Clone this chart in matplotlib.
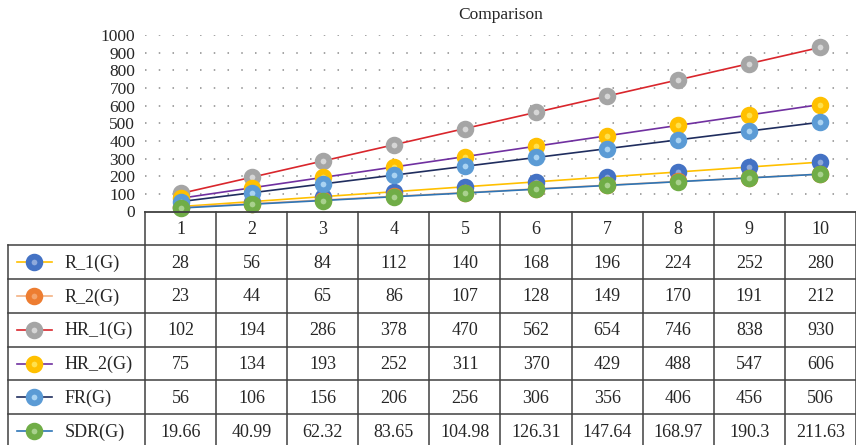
import matplotlib
matplotlib.use("Agg")
import matplotlib.pyplot as plt

plt.rcParams['font.family'] = ['Liberation Serif', 'DejaVu Serif']

# ---- data ----
categories = [1, 2, 3, 4, 5, 6, 7, 8, 9, 10]
series_names = ["R_1(G)", "R_2(G)", "HR_1(G)", "HR_2(G)", "FR(G)", "SDR(G)"]
r1 = [28, 56, 84, 112, 140, 168, 196, 224, 252, 280]
r2 = [23, 44, 65, 86, 107, 128, 149, 170, 191, 212]
hr1 = [102, 194, 286, 378, 470, 562, 654, 746, 838, 930]
hr2 = [75, 134, 193, 252, 311, 370, 429, 488, 547, 606]
fr = [56, 106, 156, 206, 256, 306, 356, 406, 456, 506]
sdr = [19.66, 40.99, 62.32, 83.65, 104.98, 126.31, 147.64, 168.97, 190.3, 211.63]
series_values = [r1, r2, hr1, hr2, fr, sdr]
y_ticks = [0, 100, 200, 300, 400, 500, 600, 700, 800, 900, 1000]

# line colour, marker ring colour, marker centre colour
styles = [
    ("#FFC000", "#4472C4", "#8EA9DB"),
    ("#F4B183", "#ED7D31", "#F4A46B"),
    ("#D9262C", "#A5A5A5", "#D6D6D6"),
    ("#7030A0", "#FFC000", "#FFE14D"),
    ("#1F2D5E", "#5B9BD5", "#A9D3F2"),
    ("#2E75B6", "#70AD47", "#A9D18E"),
]

W, H = 856, 445
fig = plt.figure(figsize=(W / 100, H / 100), dpi=100)

# plot area geometry in pixels
x0, x1 = 145, 856
y_zero, y_top = 211.5, 35
ax = fig.add_axes([x0 / W, (H - y_zero) / H, (x1 - x0) / W, (y_zero - y_top) / H])
ax.set_xlim(0.5, 10.5)
ax.set_ylim(0, 1000)
for s in ax.spines.values():
    s.set_visible(False)
ax.set_xticks([])
ax.set_yticks(y_ticks)
ax.set_yticklabels([str(t) for t in y_ticks], fontsize=12.5, color="#262626")
ax.tick_params(axis="y", length=0, pad=7)
for t in y_ticks[1:]:
    ax.axhline(t, color="#8C8C8C", lw=1.1, linestyle=(0, (1, 8)), zorder=0)

ms, mew = 8.4, 4.2
for i, (vals, (lc, mc, fc)) in enumerate(zip(series_values, styles)):
    ax.plot(categories, vals, color=lc, lw=1.2, zorder=2 + 2 * i,
            solid_capstyle="butt")
    ax.plot(categories, vals, linestyle="none", marker="o", markersize=ms,
            markeredgewidth=mew, markeredgecolor=mc, markerfacecolor=fc,
            zorder=3 + 2 * i, clip_on=False)

fig.text(500.5 / W, 1 - 15 / H, "Comparison", ha="center", va="center",
         fontsize=12.5, color="#262626")

# ---- data table drawn in pixel coordinates ----
tab = fig.add_axes([0, 0, 1, 1])
tab.set_xlim(0, W)
tab.set_ylim(H, 0)
tab.axis("off")

grid_col = "#404040"
col_w = (x1 - x0) / len(categories)
row_top = 212
row_h = 33.8
header_bottom = 245.2
legend_left = 8
table_bottom = header_bottom + row_h * len(series_names)

# axis line / header top
tab.plot([x0, x1], [row_top, row_top], color=grid_col, lw=1.3)
# horizontal rules
for r in range(len(series_names) + 1):
    y = header_bottom + r * row_h
    tab.plot([legend_left, x1], [y, y], color=grid_col, lw=1.1)
# vertical rules
for k in range(len(categories) + 1):
    x = x0 + k * col_w
    tab.plot([x, x], [row_top, table_bottom], color=grid_col, lw=1.1)
tab.plot([legend_left, legend_left], [header_bottom, table_bottom], color=grid_col, lw=1.1)

fs = 13
# header
for k, c in enumerate(categories):
    tab.text(x0 + (k + 0.5) * col_w, (row_top + header_bottom) / 2 + 1, str(c),
             ha="center", va="center", fontsize=fs, color="#262626")

# rows
for r, (name, vals, (lc, mc, fc)) in enumerate(zip(series_names, series_values, styles)):
    yc = header_bottom + (r + 0.5) * row_h
    tab.plot([17, 52], [yc, yc], color=lc, lw=1.2)
    tab.plot([34.5], [yc], linestyle="none", marker="o", markersize=ms,
             markeredgewidth=mew, markeredgecolor=mc, markerfacecolor=fc)
    tab.text(65, yc + 1, name, ha="left", va="center", fontsize=fs, color="#262626")
    for k, v in enumerate(vals):
        tab.text(x0 + (k + 0.5) * col_w, yc + 1, f"{v:g}", ha="center",
                 va="center", fontsize=fs, color="#262626")

fig.savefig("out.png", dpi=100)
